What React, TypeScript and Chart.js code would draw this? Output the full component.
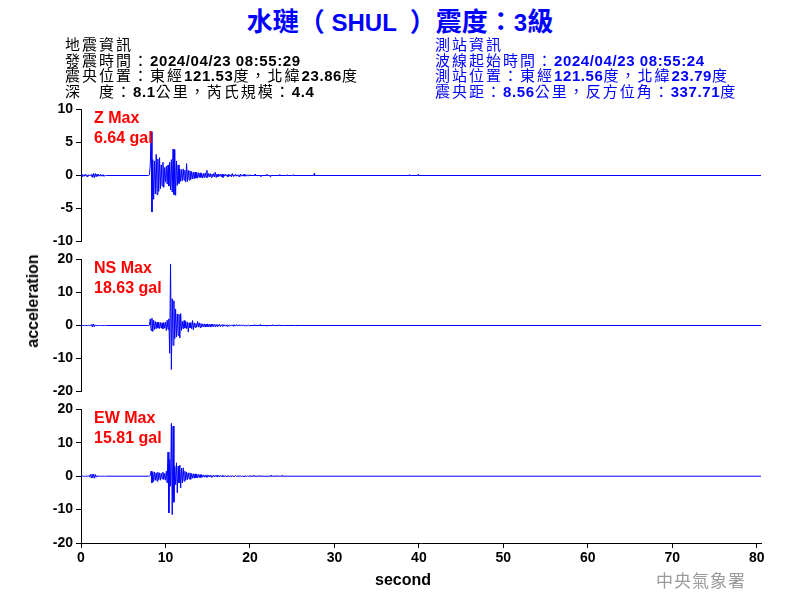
import React, { useEffect, useRef } from "react";
import { Chart, registerables } from "chart.js";
Chart.register(...registerables);

// ---------- data ----------
const X_MAX = 80.5;
const STEP = 0.1; // seconds between samples in pre/burst arrays
const BURST_START = 8.0;
const xTickValues = [0, 10, 20, 30, 40, 50, 60, 70, 80];
const zTickValues = [-10, -5, 0, 5, 10];
const hTickValues = [-20, -10, 0, 10, 20];

// Z component (0.0 .. 3.0 s)
const zPre = [
  0, 0.2, -0.2, 0.1, -0.1, 0.2, -0.1, 0.1, -0.2, 0.1,
  0, 0.1, -0.1, 0.2, -0.3, 0.3, -0.3, 0.3, -0.2, 0.2,
  -0.1, 0.1, -0.1, 0.2, -0.1, 0.1, -0.1, 0.1, -0.1, 0, 0,
];
// Z component (8.0 .. 20.0 s)
const zBurst = [
  0, 0.1, 1.6, 6.64, -5.5, 2.4, -3.6, 2.2, -2.8, 3.2,
  -2.9, 2.5, -2.4, 2.7, -2.0, 1.6, -1.6, 2.0, -1.8, 1.2,
  -1.0, 1.4, -1.3, 1.6, -1.6, 2.0, -2.2, 2.4, -2.5, 4.0,
  -2.9, 3.9, -3.0, 2.2, -1.5, 1.6, -1.2, 1.0, -0.9, 0.9,
  -0.8, 1.0, -0.7, 0.8, -1.0, 1.8, -0.9, 0.8, -0.7, 0.7,
  -0.6, 0.6, -0.5, 0.5, -0.5, 0.5, -0.4, 0.5, -0.4, 0.4,
  -0.3, 0.4, -0.3, 0.3, -0.4, 0.3, -0.3, 0.4, -0.3, 0.8,
  -0.3, 0.3, -0.2, 0.3, -0.3, 0.2, -0.2, 0.3, -0.2, 0.5,
  -0.3, 0.2, -0.2, 0.2, -0.1, 0.2, -0.2, 0.2, -0.3, 0.2,
  -0.1, 0.2, -0.1, 0.1, -0.2, 0.2, -0.1, 0.1, -0.2, 0.3,
  -0.1, 0.1, -0.1, 0.2, -0.1, 0.1, -0.1, 0.1, -0.2, 0.2,
  -0.1, 0.1, -0.1, 0.2, -0.1, 0.1, -0.1, 0.1, -0.1, 0.1,
  0,
];
// Z late blips [second, gal]
const zTail: [number, number][] = [
  [20.6, 0.2], [21.3, -0.15], [22.0, 0.2], [22.4, -0.2], [23.5, 0.15],
  [24.4, 0.1], [25.1, 0.1], [27.6, 0.3], [38.9, 0.15], [39.9, 0.15],
];

// NS component
const nsPre = [
  0, 0, 0, 0, 0, 0, 0, 0, 0, 0.05,
  -0.05, 0.1, -0.1, 0.4, -0.4, 0.4, -0.3, 0.1, -0.05, 0,
  0, 0, 0, 0, 0, 0, 0, 0, 0, 0, 0,
];
const nsBurst = [
  0, 0.1, 2.0, -1.5, 2.2, -1.8, 1.6, -1.2, 1.2, -1.0,
  1.0, -0.8, 1.0, -0.9, 0.9, -0.8, 0.8, -1.0, 0.9, -0.8,
  1.0, -1.5, 1.6, -1.2, 2.0, -8.4, 18.63, -13.3, 8.1, -6.0,
  7.5, -4.0, 5.0, -3.5, 3.5, -3.0, 3.4, -3.8, 3.6, -1.5,
  1.2, -1.0, 1.5, -0.8, 1.2, -0.9, 1.0, -2.0, 0.8, -0.7,
  0.9, -1.0, 1.5, -1.3, 0.8, -0.6, 0.6, -0.5, 1.2, -0.5,
  0.8, -0.6, 0.6, -0.5, 0.5, -0.4, 0.5, -0.5, 0.4, -0.4,
  0.5, -0.4, 0.4, -0.5, 0.4, -0.3, 0.4, -0.3, 0.3, -0.4,
  0.3, -0.3, 0.3, -0.2, 0.3, -0.3, 0.2, -0.2, 0.3, -0.2,
  0.2, -0.2, 0.2, -0.3, 0.2, -0.1, 0.2, -0.2, 0.1, -0.1,
  0.2, -0.2, 0.1, -0.1, 0.3, -0.1, 0.1, -0.1, 0.2, -0.1,
  0.1, -0.1, 0.2, -0.1, 0.1, -0.2, 0.1, -0.1, 0.2, -0.1,
  0,
];
const nsTail: [number, number][] = [
  [20.5, 0.2], [21.2, 0.25], [22.0, -0.2], [22.7, 0.25], [23.4, 0.2],
  [24.0, -0.15], [25.4, -0.2],
];

// EW component
const ewPre = [
  0, 0, 0, 0, 0, 0, 0, 0, 0, 0.05,
  -0.2, 0.5, -0.4, 0.6, -0.5, 0.6, -0.6, 0.5, -0.3, 0.1,
  0, 0, 0, 0, 0, 0, 0, 0, 0, 0, 0,
];
const ewBurst = [
  0, 0, 0.2, 1.5, -2.0, 1.2, -1.6, 1.3, -1.2, 1.0,
  -1.5, 1.2, -1.0, 1.0, -1.2, 0.9, -0.8, 1.2, -1.0, 0.8,
  -1.2, 1.5, -2.0, 7.2, -11.0, 5.0, -3.0, 15.81, -11.5, 15.0,
  -7.8, 3.0, -2.5, 4.0, -5.0, 3.0, -2.0, 3.3, -3.5, 2.4,
  -2.0, 2.5, -1.5, 1.5, -1.2, 1.2, -1.0, 1.0, -0.8, 1.0,
  -1.0, 0.8, -0.6, 0.7, -0.6, 0.7, -0.5, 0.6, -0.5, 0.5,
  -0.4, 0.5, -0.4, 0.4, -0.3, 0.4, -0.3, 0.3, -0.3, 0.4,
  -0.3, 0.3, -0.2, 0.3, -0.3, 0.2, -0.2, 0.3, -0.2, 0.2,
  -0.2, 0.3, -0.1, 0.2, -0.2, 0.2, -0.1, 0.2, -0.2, 0.1,
  -0.1, 0.2, -0.2, 0.1, -0.1, 0.2, -0.1, 0.1, -0.2, 0.2,
  -0.1, 0.1, -0.1, 0.2, -0.1, 0.1, -0.1, 0.2, -0.1, 0.1,
  -0.1, 0.1, -0.2, 0.1, -0.1, 0.1, -0.1, 0.1, -0.1, 0.1,
  0,
];
const ewTail: [number, number][] = [
  [20.4, 0.2], [21.1, 0.15], [21.8, -0.2], [22.5, 0.25], [23.2, 0.2], [23.8, 0.2],
];

const componentNames = ["Z", "NS", "EW"];
const maxValues = ["6.64", "18.63", "15.81"];

const titleText = "水璉（ SHUL  ）震度：3級";
const quakeInfo = [
  "地震資訊",
  "發震時間：2024/04/23 08:55:29",
  "震央位置：東經121.53度，北緯23.86度",
  "深　度：8.1公里，芮氏規模：4.4",
];
const stationInfo = [
  "測站資訊",
  "波線起始時間：2024/04/23 08:55:24",
  "測站位置：東經121.56度，北緯23.79度",
  "震央距：8.56公里，反方位角：337.71度",
];

// ---------- helpers ----------
type Pt = { x: number; y: number };
function buildSeries(pre: number[], burst: number[], tail: [number, number][]): Pt[] {
  const pts: Pt[] = [];
  pre.forEach((v, i) => pts.push({ x: i * STEP, y: v }));
  burst.forEach((v, i) => pts.push({ x: BURST_START + i * STEP, y: v }));
  tail.forEach(([t, v]) => {
    pts.push({ x: t - 0.05, y: 0 }, { x: t, y: v }, { x: t + 0.05, y: 0 });
  });
  pts.push({ x: X_MAX, y: 0 });
  return pts;
}

const LATIN = '"Liberation Sans", Arial, sans-serif';
const CJK = '"Noto Sans CJK TC", "Noto Sans CJK SC", sans-serif';
const cjkRe = /([\u3000-\u303f\u3400-\u9fff\uff00-\uffef]+)/;

function Mixed({ text, cjkSize, latinSize, cjkWeight, latinWeight, cjkSpacing = 0, latinSpacing = 0 }: any) {
  return (
    <>
      {text.split(cjkRe).map((part: string, i: number) =>
        part === "" ? null : cjkRe.test(part) ? (
          <span key={i} style={{ fontFamily: CJK, fontSize: cjkSize, fontWeight: cjkWeight, letterSpacing: cjkSpacing }}>{part}</span>
        ) : (
          <span key={i} style={{ fontFamily: LATIN, fontSize: latinSize, fontWeight: latinWeight, letterSpacing: latinSpacing }}>{part}</span>
        )
      )}
    </>
  );
}

const tickFont = { family: "Liberation Sans", size: 14, weight: "bold" as const };

function Panel({ top, height, data, yMin, yMax, yTicks, showX }: any) {
  const ref = useRef<HTMLCanvasElement>(null);
  useEffect(() => {
    const xScale: any = {
      type: "linear",
      min: 0,
      max: X_MAX,
      display: showX,
      afterBuildTicks: (s: any) => { s.ticks = xTickValues.map((v) => ({ value: v })); },
      border: { display: true, color: "#000", width: 1 },
      grid: { drawOnChartArea: false, drawTicks: true, tickLength: 5, tickColor: "#000" },
      ticks: { color: "#000", font: tickFont, maxRotation: 0, autoSkip: false, padding: 2 },
    };
    if (showX) xScale.afterFit = (s: any) => { s.height = 57; };
    const chart = new Chart(ref.current!, {
      type: "line",
      data: {
        datasets: [
          {
            data,
            borderColor: "#0000ff",
            borderWidth: 1,
            pointRadius: 0,
            tension: 0,
            fill: false,
          },
        ],
      },
      options: {
        animation: false,
        responsive: false,
        events: [],
        layout: { padding: { top: 10, bottom: showX ? 0 : 10, left: 0, right: 39 } },
        plugins: { legend: { display: false }, tooltip: { enabled: false }, title: { display: false } },
        scales: {
          x: xScale,
          y: {
            type: "linear",
            min: yMin,
            max: yMax,
            afterFit: (s: any) => { s.width = 81; },
            afterBuildTicks: (s: any) => { s.ticks = yTicks.map((v: number) => ({ value: v })); },
            border: { display: true, color: "#000", width: 1 },
            grid: { drawOnChartArea: false, drawTicks: true, tickLength: 5, tickColor: "#000" },
            ticks: { color: "#000", font: tickFont, padding: 3, callback: (v: any) => String(v) },
          },
        },
      },
    } as any);
    return () => chart.destroy();
  }, []);
  return (
    <canvas
      ref={ref}
      width={800}
      height={height}
      style={{ position: "absolute", left: 0, top, width: 800, height, display: "block" }}
    />
  );
}

function InfoBlock({ lines, left, color }: any) {
  return (
    <div style={{ position: "absolute", left, top: 36, color, whiteSpace: "pre" }}>
      {lines.map((t: string, i: number) => (
        <div key={i} style={{ height: 15.7, lineHeight: "15.7px", overflow: "visible" }}>
          <Mixed text={t} cjkSize={15} latinSize={15} cjkWeight={400} latinWeight={700} cjkSpacing={2} latinSpacing={0.6} />
        </div>
      ))}
    </div>
  );
}

export default function App() {
  const series = [
    buildSeries(zPre, zBurst, zTail),
    buildSeries(nsPre, nsBurst, nsTail),
    buildSeries(ewPre, ewBurst, ewTail),
  ];
  const panels = [
    { top: 98, height: 155, yMin: -10, yMax: 10, yTicks: zTickValues, showX: false, areaTop: 108 },
    { top: 248, height: 155, yMin: -20, yMax: 20, yTicks: hTickValues, showX: false, areaTop: 258 },
    { top: 398, height: 202, yMin: -20, yMax: 20, yTicks: hTickValues, showX: true, areaTop: 408 },
  ];
  return (
    <div style={{ position: "absolute", left: 0, top: 0, width: 800, height: 600, background: "#fff", overflow: "hidden" }}>
      {panels.map((p, i) => (
        <Panel key={i} top={p.top} height={p.height} data={series[i]} yMin={p.yMin} yMax={p.yMax} yTicks={p.yTicks} showX={p.showX} />
      ))}

      {/* title */}
      <div style={{ position: "absolute", left: 0, top: 4, width: 800, height: 32, lineHeight: "32px", textAlign: "center", color: "#0000ff", whiteSpace: "pre" }}>
        <Mixed text={titleText} cjkSize={26} latinSize={24} cjkWeight={700} latinWeight={700} />
      </div>

      <InfoBlock lines={quakeInfo} left={65} color="#000" />
      <InfoBlock lines={stationInfo} left={435} color="#0000ff" />

      {/* max labels */}
      {panels.map((p, i) => (
        <div key={"m" + i} style={{ position: "absolute", left: 94, top: p.areaTop, lineHeight: "20px", fontFamily: LATIN, fontSize: 16, fontWeight: 700, color: "#ff0000", whiteSpace: "pre" }}>
          <div>{componentNames[i]} Max</div>
          <div>{maxValues[i]} gal</div>
        </div>
      ))}

      {/* axis titles */}
      <div style={{ position: "absolute", left: 33, top: 301, transform: "translate(-50%, -50%) rotate(-90deg)", fontFamily: LATIN, fontSize: 16, fontWeight: 700, color: "#000", whiteSpace: "nowrap", lineHeight: "20px" }}>
        acceleration
      </div>
      <div style={{ position: "absolute", left: 403, top: 580, transform: "translate(-50%, -50%)", fontFamily: LATIN, fontSize: 16, fontWeight: 700, color: "#000", whiteSpace: "nowrap", lineHeight: "20px" }}>
        second
      </div>

      {/* watermark */}
      <div style={{ position: "absolute", left: 701, top: 580, transform: "translate(-50%, -50%)", fontFamily: CJK, fontSize: 17, color: "#9a9a9a", whiteSpace: "nowrap", lineHeight: "20px", letterSpacing: 1 }}>
        中央氣象署
      </div>
    </div>
  );
}
